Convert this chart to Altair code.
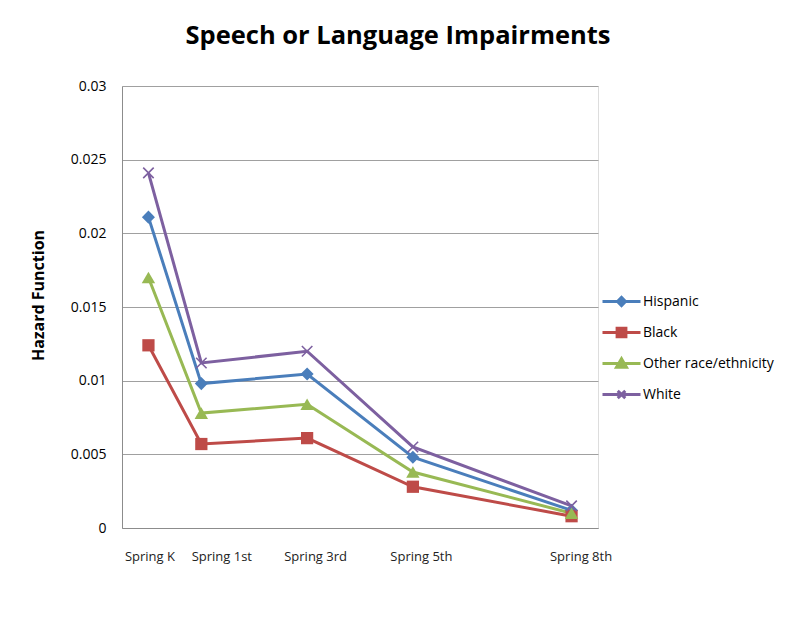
import altair as alt
import pandas as pd

waves = ["Spring K", "Spring 1st", "Spring 3rd", "Spring 5th", "Spring 8th"]
grade = [0, 1, 3, 5, 8]
label_shift = [1, 20, 8, 8, 9]
series = ["Hispanic", "Black", "Other race/ethnicity", "White"]
hispanic = [0.0211, 0.0098, 0.01045, 0.0048, 0.0012]
black = [0.0124, 0.0057, 0.0061, 0.0028, 0.0008]
other = [0.0170, 0.0078, 0.0084, 0.0038, 0.0010]
white = [0.0241, 0.0112, 0.0120, 0.0055, 0.0015]
colors = ["#4A7EBB", "#BE4B48", "#98B954", "#7D60A0"]
y_ticks = [0, 0.005, 0.01, 0.015, 0.02, 0.025, 0.03]

rows = []
for name, vals in zip(series, [hispanic, black, other, white]):
    for w, g, v in zip(waves, grade, vals):
        rows.append({"series": name, "wave": w, "grade": g, "value": v})
df = pd.DataFrame(rows)

FONT = "Open Sans"
label_expr = "".join(f"datum.value=={g}?'{w}':" for g, w in zip(grade, waves)) + "''"
label_offset = {
    "condition": [{"test": f"datum.value=={g}", "value": s} for g, s in zip(grade, label_shift)],
    "value": 0,
}

x_enc = alt.X("grade:Q", scale=alt.Scale(domain=[-0.5, 8.5], nice=False, zero=False),
              axis=alt.Axis(values=grade, labelExpr=label_expr, title=None, grid=False,
                            ticks=False, domainColor="#8C8C8C", labelFontSize=13,
                            labelColor="#222222", labelPadding=22, labelFont=FONT,
                            labelOverlap=False, labelOffset=label_offset))
y_enc = alt.Y("value:Q", scale=alt.Scale(domain=[0, 0.03], nice=False),
              axis=alt.Axis(values=y_ticks, format=".3~f", title="Hazard Function",
                            titleFontSize=16, titleFont=FONT, titleFontWeight="bold",
                            titleColor="#000000", titleX=-76, titleY=209,
                            labelFontSize=14, labelColor="#000000", labelFont=FONT,
                            labelPadding=16, ticks=False,
                            domainColor="#8C8C8C", gridColor="#A0A0A0", grid=True))

# same mapping as `colors`, listed in reverse so the (hidden) color legend stays separate
color_scale = alt.Scale(domain=series[::-1], range=colors[::-1])
base = alt.Chart(df).encode(x=x_enc, y=y_enc)

lines = base.mark_line(strokeWidth=3).encode(
    color=alt.Color("series:N", scale=color_scale, legend=None),
    detail="series:N")

def pts(name, shape, size, filled=True):
    return base.transform_filter(alt.datum.series == name).mark_point(
        shape=shape, size=size, filled=filled, opacity=1, strokeWidth=1.6).encode(
        color=alt.Color("series:N", scale=color_scale, legend=None))

p_h = pts("Hispanic", "diamond", 170)
p_b = pts("Black", "square", 150)
p_o = pts("Other race/ethnicity", "triangle-up", 180)
p_w = pts("White", "M-1,-1L1,1M-1,1L1,-1", 110, filled=False)

# legend symbols: r = 12px per unit; line 38px long, marker at its middle
legend_paths = [
    "M-2.167,0L1,0M-0.92,0L-0.583,-0.34L-0.25,0L-0.583,0.34Z",
    "M-2.167,0L1,0M-0.95,-0.36L-0.216,-0.36L-0.216,0.36L-0.95,0.36Z",
    "M-2.167,0L1,0M-0.583,-0.4L-0.17,0.32L-1.0,0.32Z",
    "M-2.167,0L1,0M-0.9,-0.3L-0.266,0.3M-0.9,0.3L-0.266,-0.3",
]
leg = alt.Legend(title=None, orient="none", legendX=493, legendY=202, symbolSize=576,
                 symbolStrokeWidth=3, rowPadding=7, labelOffset=1,
                 labelFontSize=14, labelFont=FONT, labelColor="#000000", padding=0,
                 labelLimit=300)
legend_layer = base.transform_filter("false").mark_point(filled=True, opacity=1, strokeWidth=3).encode(
    fill=alt.Fill("series:N", scale=alt.Scale(domain=series, range=colors), legend=leg),
    stroke=alt.Stroke("series:N", scale=alt.Scale(domain=series, range=colors), legend=leg),
    shape=alt.Shape("series:N", scale=alt.Scale(domain=series, range=legend_paths), legend=leg),
)

chart = alt.layer(lines, p_h, p_b, p_o, p_w, legend_layer).properties(
    width=476, height=442,
    autosize=alt.AutoSizeParams(type="none"),
    padding={"left": 114, "top": 78, "right": 194, "bottom": 106},
    title=alt.TitleParams("Speech or Language Impairments", font=FONT, fontSize=25.5,
                          fontWeight="bold", color="#000000", offset=30, dx=38),
).configure_view(stroke=None).configure(background="white")

chart.save("out.html", embed_options={"renderer": "svg", "actions": False})
